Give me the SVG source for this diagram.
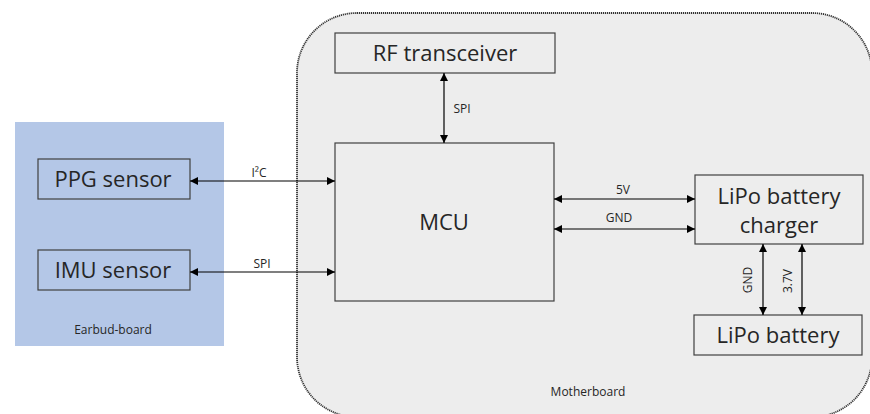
<svg xmlns="http://www.w3.org/2000/svg" width="870" height="414" viewBox="0 0 870 414">
<style>
.box{fill:none;stroke:#404040;stroke-width:1.2}
.big{font-family:"Open Sans","Liberation Sans",sans-serif;font-size:22px;fill:#262626;text-anchor:middle}
.lbl{font-family:"Open Sans","Liberation Sans",sans-serif;font-size:12px;fill:#262626;text-anchor:middle}
.ln{stroke:#000;stroke-width:1.2;fill:none;marker-start:url(#ah);marker-end:url(#ah)}
</style>
<defs>
<marker id="ah" viewBox="0 0 10 10" refX="10" refY="5" markerWidth="8" markerHeight="8" markerUnits="userSpaceOnUse" orient="auto-start-reverse">
<path d="M0,0 L10,5 L0,10 z" fill="#000"/>
</marker>
</defs>
<rect width="870" height="414" fill="#fff"/>
<g id="earbud-board">
<rect x="15" y="122" width="209" height="224" fill="#b4c7e7"/>
<text class="lbl" x="113" y="334" font-size="12.5">Earbud-board</text>
</g>
<g id="motherboard">
<rect x="297" y="13" width="575" height="404" rx="60" ry="60" fill="#ededed" stroke="#333" stroke-width="1.8" stroke-dasharray="1.2 0.8"/>
<text class="lbl" x="588" y="396" font-size="12.5">Motherboard</text>
</g>
<g id="ppg">
<rect class="box" x="38" y="159" width="152" height="40"/>
<text class="big" x="113" y="187">PPG sensor</text>
</g>
<g id="imu">
<rect class="box" x="38" y="250" width="152" height="40"/>
<text class="big" x="113" y="278">IMU sensor</text>
</g>
<g id="rf">
<rect class="box" x="335" y="33" width="220" height="40"/>
<text class="big" x="445" y="61">RF transceiver</text>
</g>
<g id="mcu">
<rect class="box" x="335" y="143" width="219" height="158"/>
<text class="big" x="444" y="230">MCU</text>
</g>
<g id="charger">
<rect class="box" x="695" y="175" width="168" height="69"/>
<text class="big" x="779" y="204">LiPo battery</text>
<text class="big" x="779" y="233">charger</text>
</g>
<g id="battery">
<rect class="box" x="694" y="315" width="168" height="40"/>
<text class="big" x="778" y="343">LiPo battery</text>
</g>
<g id="connectors">
<line class="ln" x1="190" y1="181" x2="335" y2="181"/>
<text class="lbl" x="259" y="177">I²C</text>
<line class="ln" x1="190" y1="272" x2="335" y2="272"/>
<text class="lbl" x="262" y="268">SPI</text>
<line class="ln" x1="444" y1="73" x2="444" y2="143"/>
<text class="lbl" x="462" y="113">SPI</text>
<line class="ln" x1="554" y1="199" x2="695" y2="199"/>
<text class="lbl" x="623" y="194">5V</text>
<line class="ln" x1="554" y1="229" x2="695" y2="229"/>
<text class="lbl" x="619" y="222">GND</text>
<line class="ln" x1="763" y1="244" x2="763" y2="315"/>
<text class="lbl" transform="translate(752,280) rotate(-90)">GND</text>
<line class="ln" x1="802" y1="244" x2="802" y2="315"/>
<text class="lbl" transform="translate(792,281) rotate(-90)">3.7V</text>
</g>
</svg>
